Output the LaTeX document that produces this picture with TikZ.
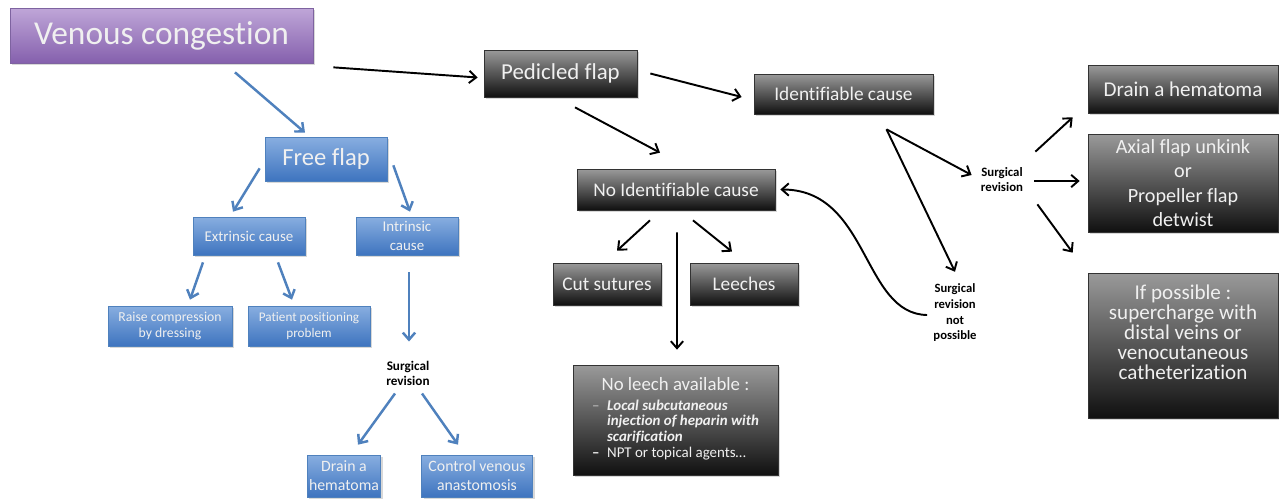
\documentclass[tikz,border=0pt]{standalone}
\usepackage{fontspec}
\setmainfont{Carlito}[Ligatures=NoCommon]
\usepackage{tikz}
\usetikzlibrary{arrows.meta, shadows}
\usepackage{xcolor}

\definecolor{lilatop}{HTML}{BFA6D8}
\definecolor{lilabot}{HTML}{8560AD}
\definecolor{lilaline}{HTML}{7E63A0}
\definecolor{bluetop}{HTML}{88AEE0}
\definecolor{bluebot}{HTML}{3E74BF}
\definecolor{blueline}{HTML}{4F81BD}
\definecolor{greytop}{HTML}{9A9A9A}
\definecolor{greybot}{HTML}{101010}
\definecolor{softwhite}{HTML}{F0F0F0}

\begin{document}
\begin{tikzpicture}[
x=0.02cm, y=-0.02cm,
box/.style={draw,
rectangle,
align=center,
inner sep=1pt,
drop shadow={opacity=0.3, shadow xshift=1.2pt, shadow yshift=-1.2pt}},
lilabox/.style={box, draw=lilaline, top color=lilatop, bottom color=lilabot, text=softwhite},
bluebox/.style={box, draw=blueline, top color=bluetop, bottom color=bluebot, text=softwhite},
darkbox/.style={box, draw=black!80, top color=greytop, bottom color=greybot, text=softwhite},
note/.style={align=center, inner sep=0pt, font=\bfseries\fontsize{7.5}{8.5}\selectfont},
arrow/.style={-{Straight Barb[length=4pt, width=7pt]}, line width=1.1pt},
bluearrow/.style={arrow, draw=blueline, line width=1.4pt} ]

\fill[white] (0,0) rectangle (1279,498);
\useasboundingbox (0,0) rectangle (1279,498);

\node[lilabox, minimum width=6.06cm, minimum height=1.1cm, font=\fontsize{19}{22}\selectfont] (venous) at (161.5,35.5) {Venous congestion};

\node[bluebox, minimum width=2.44cm, minimum height=0.88cm, font=\fontsize{14}{16}\selectfont] (free) at (326,159) {Free flap};
\node[bluebox, minimum width=2.24cm, minimum height=0.76cm, font=\fontsize{8.5}{10}\selectfont] (extr) at (249,236) {Extrinsic cause};
\node[bluebox, minimum width=2.04cm, minimum height=0.76cm, font=\fontsize{8.5}{10.4}\selectfont] (intr) at (407,236) {Intrinsic\\cause};
\node[bluebox, minimum width=2.48cm, minimum height=0.8cm, font=\fontsize{7.8}{9.5}\selectfont] (raise) at (170,326) {Raise compression\\by dressing};
\node[bluebox, minimum width=2.44cm, minimum height=0.8cm, font=\fontsize{7.5}{9.5}\selectfont] (patient) at (309,326) {Patient positioning\\problem};
\node[note] (revL) at (408,373) {Surgical\\revision};
\node[bluebox, minimum width=1.44cm, minimum height=0.84cm, font=\fontsize{9}{10.8}\selectfont] (drainL) at (344,476) {Drain a\\hematoma};
\node[bluebox, minimum width=2.22cm, minimum height=0.84cm, font=\fontsize{9}{10.8}\selectfont] (control) at (477,476) {Control venous\\anastomosis};

\node[darkbox, minimum width=3.06cm, minimum height=0.94cm, font=\fontsize{13}{15}\selectfont] (pedicled) at (560.5,73.5) {Pedicled flap};
\node[darkbox, minimum width=3.58cm, minimum height=0.8cm, font=\fontsize{11}{13}\selectfont] (ident) at (843.5,94) {Identifiable cause};
\node[darkbox, minimum width=3.96cm, minimum height=0.82cm, font=\fontsize{11}{13}\selectfont] (noident) at (676,189.5) {No Identifiable cause};
\node[darkbox, minimum width=2.16cm, minimum height=0.84cm, font=\fontsize{11}{13}\selectfont] (cut) at (607,284) {Cut sutures};
\node[darkbox, minimum width=2.16cm, minimum height=0.84cm, font=\fontsize{11}{13}\selectfont] (leeches) at (744,284) {Leeches};
\node[darkbox, minimum width=4.1cm, minimum height=2.2cm, font=\fontsize{8.5}{9}\selectfont] (noleech) at (675.5,420) {%
\begin{tabular}{@{}l@{}l@{}}
\multicolumn{2}{@{}c@{}}{\fontsize{10.7}{13}\selectfont No leech available :}\\[2pt]
\makebox[0.3cm][l]{\color{softwhite!60!gray}--} & \textbf{\textit{Local subcutaneous}}\\
& \textbf{\textit{injection of heparin with}}\\
& \textbf{\textit{scarification}}\\
\makebox[0.3cm][l]{\textbf{--}} & NPT or topical agents\dots
\end{tabular}};

\node[note, font=\bfseries\fontsize{7.3}{8.5}\selectfont] (revR) at (1002,180) {Surgical\\revision};
\node[note, font=\bfseries\fontsize{7.2}{8.9}\selectfont] (revnp) at (955,313) {Surgical\\revision\\not\\possible};
\node[darkbox, minimum width=3.8cm, minimum height=0.96cm, font=\fontsize{12}{14}\selectfont] (drainR) at (1183,89) {Drain a hematoma};
\node[darkbox, minimum width=3.8cm, minimum height=1.96cm, font=\fontsize{11.5}{14}\selectfont] (axial) at (1183,183) {Axial flap unkink\\or\\Propeller flap\\detwist};
\node[darkbox, minimum width=3.8cm, minimum height=2.9cm, font=\fontsize{12}{11.3}\selectfont] (ifposs) at (1183,345.5) {If possible :\\supercharge with\\distal veins or\\venocutaneous\\catheterization\\[0.14cm]};

\coordinate (split) at ([shift={(43,15)}]ident.south);

\draw[arrow] ([shift={(20,4)}]venous.south east) -- ([shift={(-6,4)}]pedicled.west);
\draw[bluearrow] ([shift={(73.5,9)}]venous.south) -- ([shift={(-21,-4)}]free.north);
\draw[bluearrow] ([shift={(-5,-13)}]free.south west) -- ([shift={(-16,-5)}]extr.north);
\draw[bluearrow] ([shift={(6,-16)}]free.south east) -- ([shift={(3,-5)}]intr.north);
\draw[bluearrow] ([shift={(-46,7)}]extr.south) -- ([shift={(20,-6)}]raise.north);
\draw[bluearrow] ([shift={(29,7)}]extr.south) -- ([shift={(-17,-6)}]patient.north);
\draw[bluearrow] ([shift={(2,17)}]intr.south) -- ([shift={(1,-19)}]revL.north);
\draw[bluearrow] ([shift={(-13,8)}]revL.south) -- ([shift={(14,-10)}]drainL.north);
\draw[bluearrow] ([shift={(14,8)}]revL.south) -- ([shift={(-19,-10)}]control.north);

\draw[arrow] ([shift={(13,0)}]pedicled.east) -- ([shift={(-12,3)}]ident.west);
\draw[arrow] ([shift={(14.5,10)}]pedicled.south) -- ([shift={(-16,-16)}]noident.north);
\draw[arrow] (split) -- ([shift={(-9,-5)}]revR.west);
\draw[arrow] (split) -- ([shift={(0,-12)}]revnp.north);
\draw[arrow] ([shift={(-6,2)}]revnp.west) .. controls +(-65,-1) and +(89,0) .. ([shift={(5,0)}]noident.east);
\draw[arrow] ([shift={(12,-16)}]revR.north east) -- ([shift={(-15,4)}]drainR.south west);
\draw[arrow] ([shift={(11,1)}]revR.east) -- ([shift={(-8,-2)}]axial.west);
\draw[arrow] ([shift={(14,12)}]revR.south east) -- ([shift={(-15,-20)}]ifposs.north west);
\draw[arrow] ([shift={(-26,10)}]noident.south) -- ([shift={(10,-12)}]cut.north);
\draw[arrow] ([shift={(17,10)}]noident.south) -- ([shift={(-12,-11)}]leeches.north);
\draw[arrow] ([shift={(1,22)}]noident.south) -- ([shift={(1.5,-15)}]noleech.north);

\end{tikzpicture}
\end{document}
